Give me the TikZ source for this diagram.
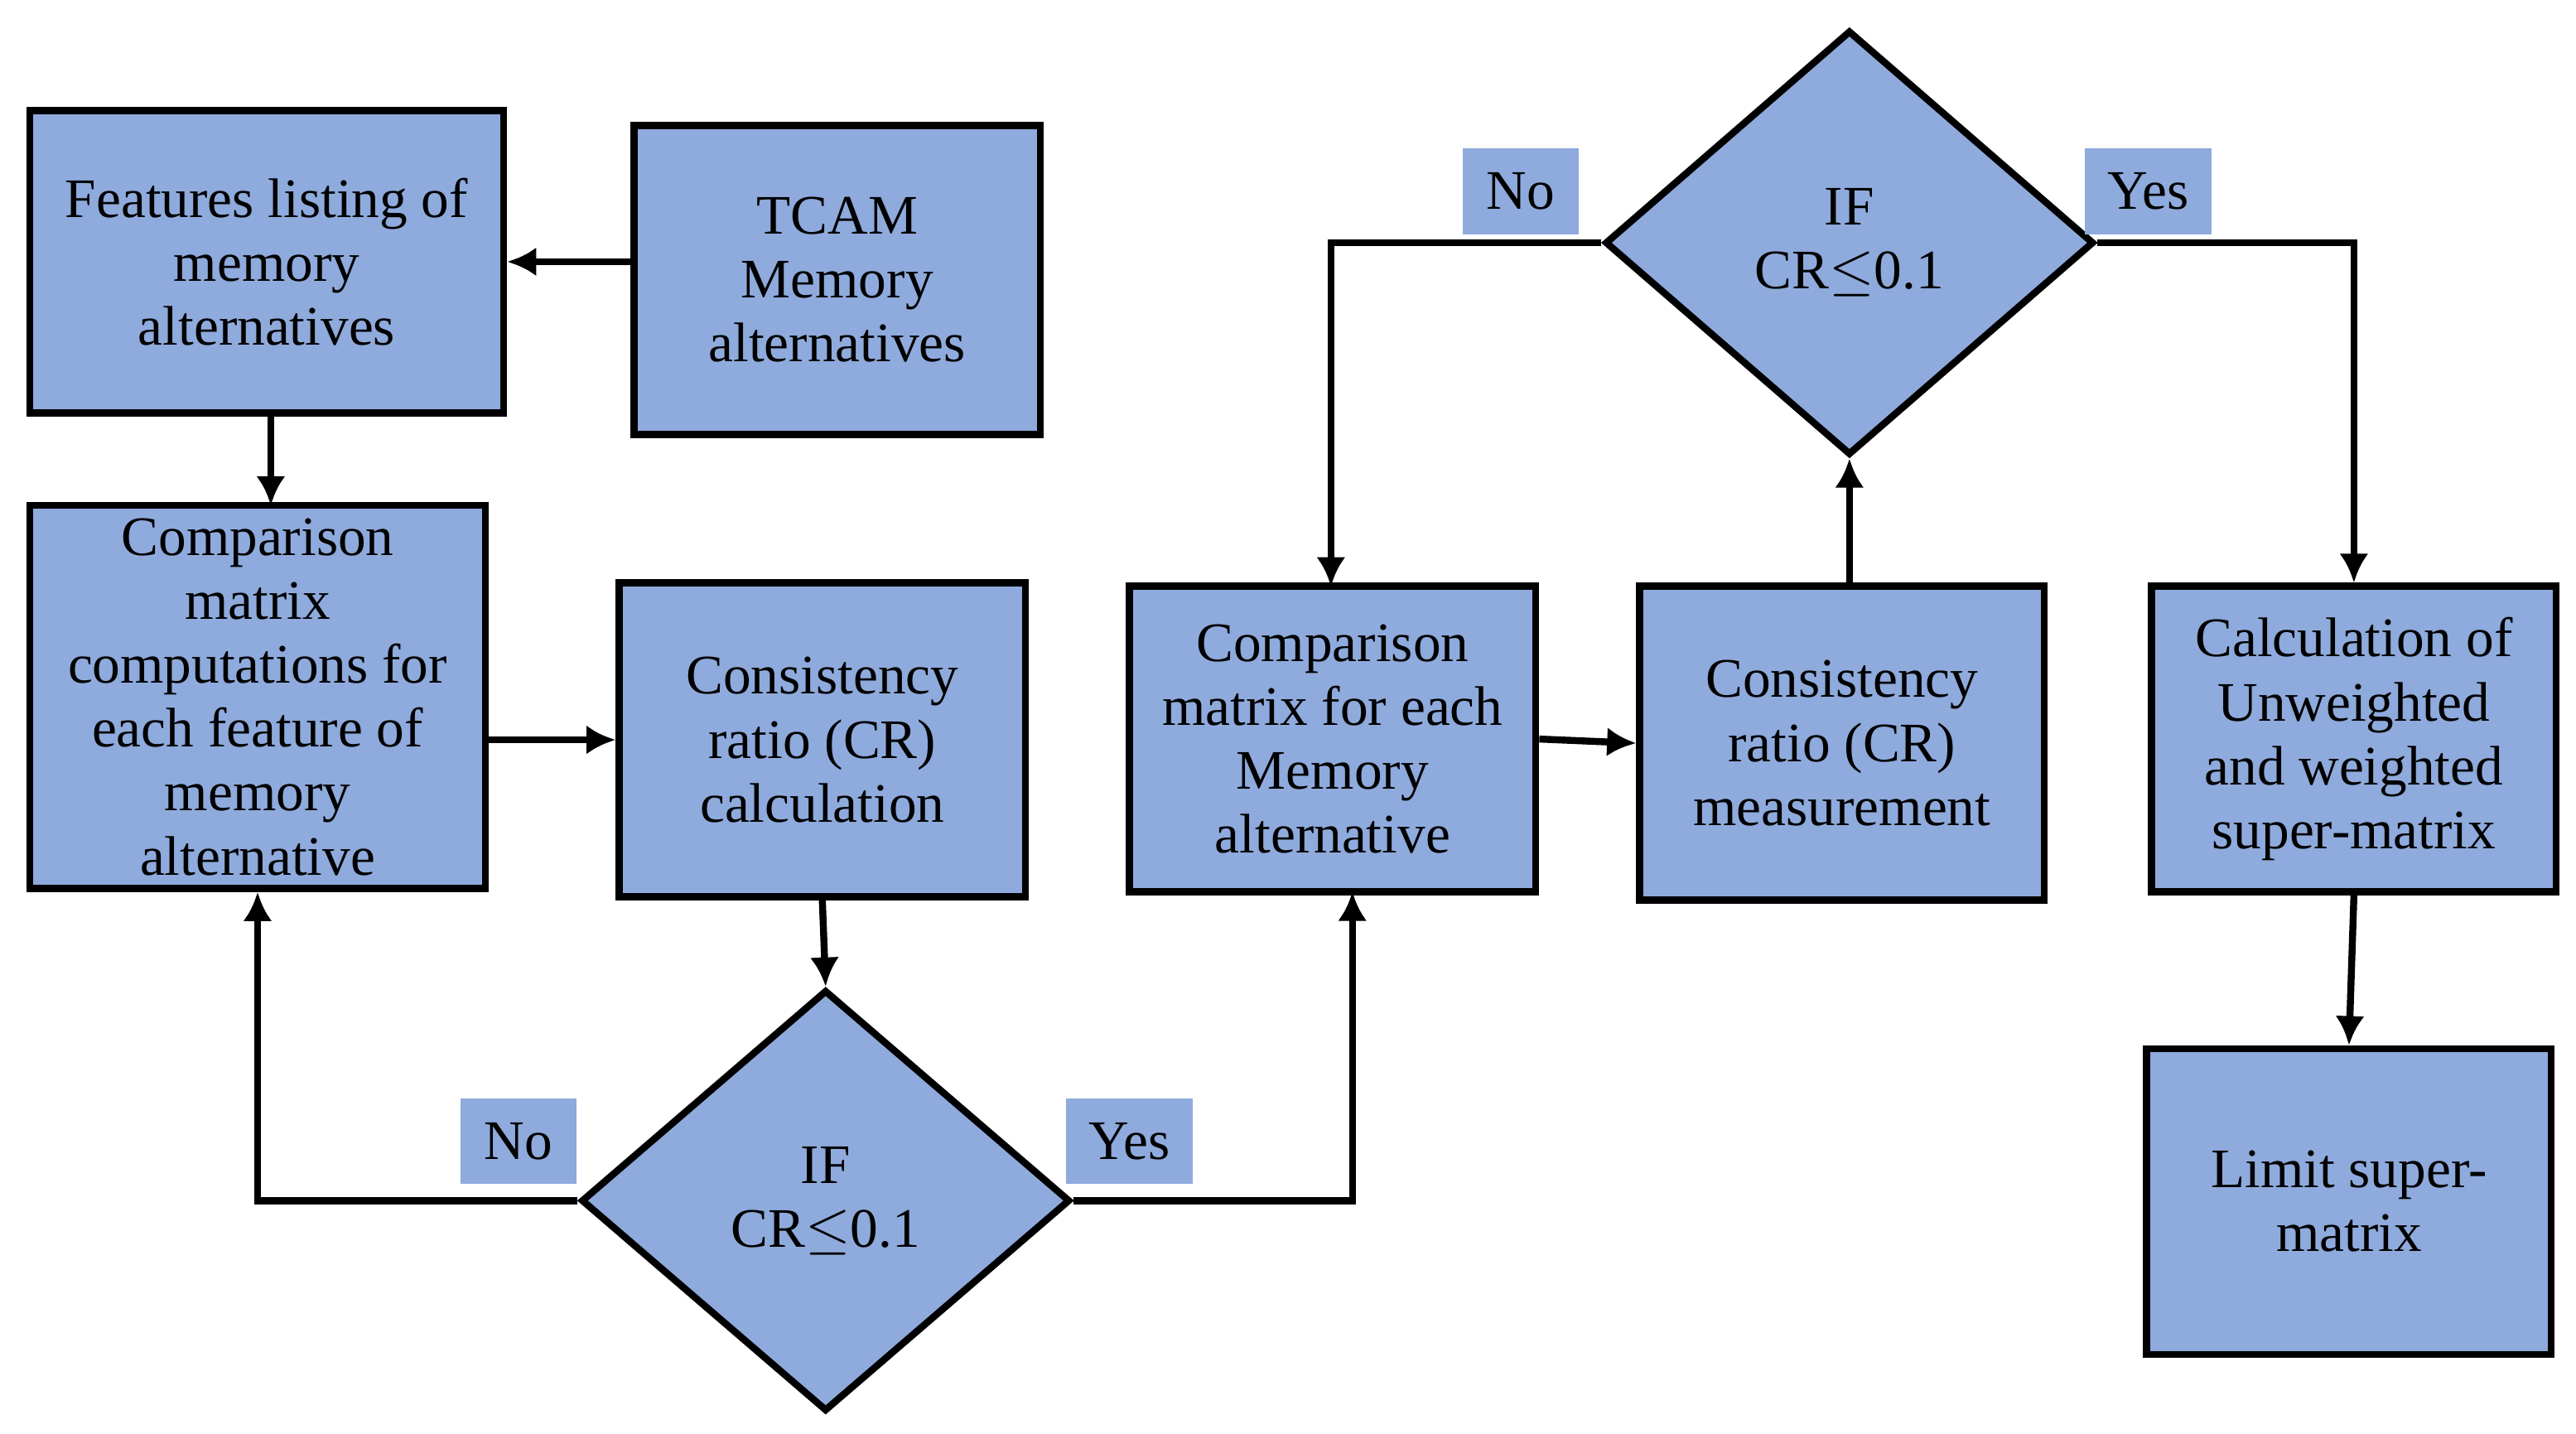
\documentclass[tikz,border=0pt]{standalone}
\usepackage{fontspec}
\setmainfont{Liberation Serif}
\usetikzlibrary{shapes.geometric,arrows.meta}
\definecolor{bfill}{HTML}{8FAADC}
\begin{document}
\begin{tikzpicture}[x=0.01cm,y=-0.01cm,
  box/.style={draw=black,line width=1.2pt,fill=bfill,align=center,inner sep=0pt,font=\fontsize{9.6}{11}\selectfont},
  dia/.style={diamond,draw=black,line width=1.2pt,fill=bfill,align=center,inner sep=0pt,aspect=1.16,font=\fontsize{9.6}{11}\selectfont},
  lab/.style={fill=bfill,inner sep=0pt,minimum width=0.7cm,minimum height=0.52cm,font=\fontsize{9.6}{11}\selectfont},
  arr/.style={draw=black,line width=1.2pt,-{Latex[length=5pt,width=5pt]}}]
\useasboundingbox (0,0) rectangle (1560,868);
\node[box,minimum width=2.87cm,minimum height=1.83cm] (feat) at (161.5,158.5) {Features listing of\\memory\\alternatives};
\node[box,minimum width=2.46cm,minimum height=1.87cm] (tcam) at (507,169.5) {TCAM\\Memory\\alternatives};
\node[box,minimum width=2.76cm,minimum height=2.32cm] (cm1) at (156,422) {Comparison\\matrix\\computations for\\each feature of\\memory\\alternative};
\node[box,minimum width=2.46cm,minimum height=1.9cm] (cr1) at (498,448) {Consistency\\ratio (CR)\\calculation};
\node[dia,minimum width=2.96cm,minimum height=2.55cm] (d1) at (500,727) {IF\\CR$\leq$0.1};
\node[box,minimum width=2.46cm,minimum height=1.85cm] (cm2) at (807,447.5) {Comparison\\matrix for each\\Memory\\alternative};
\node[box,minimum width=2.45cm,minimum height=1.9cm] (cr2) at (1115.5,450) {Consistency\\ratio (CR)\\measurement};
\node[dia,minimum width=2.96cm,minimum height=2.57cm] (d2) at (1120,147) {IF\\CR$\leq$0.1};
\node[box,minimum width=2.45cm,minimum height=1.85cm] (calc) at (1425.5,447.5) {Calculation of\\Unweighted\\and weighted\\super-matrix};
\node[box,minimum width=2.45cm,minimum height=1.85cm] (lim) at (1422.5,727.5) {Limit super-\\matrix};
\node[lab] (no1) at (314,691) {No};
\node[lab,minimum width=0.77cm] (yes1) at (684,691) {Yes};
\node[lab] (no2) at (921,116) {No};
\node[lab,minimum width=0.77cm] (yes2) at (1301,116) {Yes};
\draw[arr] (tcam.west|-feat.east) -- (feat.east);
\draw[arr] (164,250) -- (164,306);
\draw[arr] (cm1.east|-cr1.west) -- (cr1.west);
\draw[arr] (cr1.south) -- (d1.north);
\draw[arr] (d1.west) -| (cm1.south);
\draw[arr] (d1.east) -| (819,540);
\draw[arr] (cm2.east) -- (cr2.west);
\draw[arr] (cr2.north-|d2.south) -- (d2.south);
\draw[arr] (d2.west) -| (806,355);
\draw[arr] (d2.east) -| (calc.north);
\draw[arr] (calc.south) -- (lim.north);
\end{tikzpicture}
\end{document}
